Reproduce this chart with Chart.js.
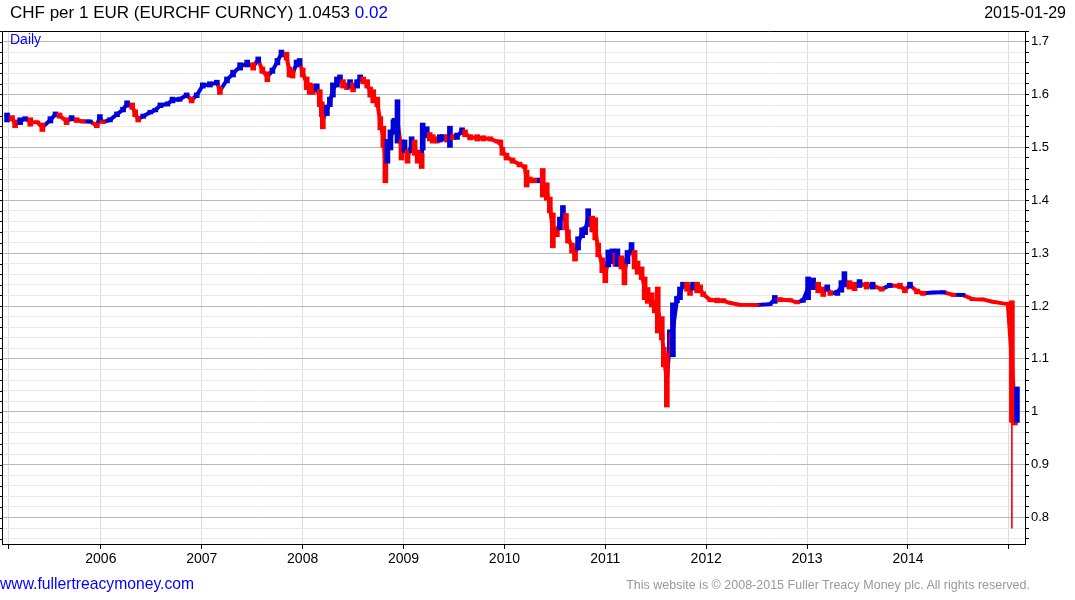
<!DOCTYPE html>
<html>
<head>
<meta charset="utf-8">
<title>CHF per 1 EUR</title>
<script src="https://cdn.jsdelivr.net/npm/chart.js@4.4.0/dist/chart.umd.min.js"></script>
<style>
    body { margin: 0; background: #fff; font-family: Arial, "Liberation Sans", sans-serif; }
    .wrap { position: relative; width: 1075px; height: 600px; }
    .wrap canvas { position: absolute; left: 0; top: 0; }
    .txt { position: absolute; white-space: nowrap; }
    #title { left: 10px; top: 3px; font-size: 17px; color: #000; }
    #title span { color: #0000ff; }
    #date { right: 9px; top: 4px; font-size: 16px; color: #000; }
    #daily { left: 10px; top: 31px; font-size: 14px; color: #0000ff; }
    #site { left: 0; top: 575px; font-size: 15.7px; color: #0000ff; }
    #copy { right: 45px; top: 578px; font-size: 12.5px; color: #999; }
</style>
</head>
<body>
<div class="wrap">
    <canvas id="chart"></canvas>
    <div class="txt" id="title">CHF per 1 EUR (EURCHF CURNCY) 1.0453 <span>0.02</span></div>
    <div class="txt" id="date">2015-01-29</div>
    <div class="txt" id="daily">Daily</div>
    <div class="txt" id="site">www.fullertreacymoney.com</div>
    <div class="txt" id="copy">This website is © 2008-2015 Fuller Treacy Money plc. All rights reserved.</div>
</div>
<script>
// dates as fractional years, with the low/high range of each period
const dates = [
    2005.07, 2005.12, 2005.15, 2005.20, 2005.25, 2005.30, 2005.37, 2005.42, 2005.50, 2005.55,
    2005.59, 2005.66, 2005.71, 2005.76, 2005.82, 2005.89, 2005.96, 2005.99, 2006.02, 2006.09,
    2006.16, 2006.22, 2006.26, 2006.31, 2006.34, 2006.37, 2006.42, 2006.49, 2006.54, 2006.59,
    2006.66, 2006.71, 2006.78, 2006.85, 2006.90, 2006.95, 2007.01, 2007.08, 2007.15, 2007.18,
    2007.25, 2007.31, 2007.38, 2007.45, 2007.51, 2007.56, 2007.60, 2007.65, 2007.70, 2007.75,
    2007.79, 2007.84, 2007.87, 2007.90, 2007.94, 2007.97, 2008.00, 2008.04, 2008.07, 2008.10,
    2008.14, 2008.17, 2008.19, 2008.20, 2008.24, 2008.27, 2008.30, 2008.34, 2008.37, 2008.40,
    2008.44, 2008.47, 2008.50, 2008.54, 2008.57, 2008.60, 2008.64, 2008.67, 2008.70, 2008.74,
    2008.77, 2008.80, 2008.82, 2008.84, 2008.87, 2008.90, 2008.91, 2008.94, 2008.98, 2009.01,
    2009.04, 2009.08, 2009.11, 2009.14, 2009.18, 2009.19, 2009.23, 2009.26, 2009.29, 2009.33,
    2009.36, 2009.39, 2009.43, 2009.46, 2009.49, 2009.53, 2009.58, 2009.61, 2009.66, 2009.73,
    2009.79, 2009.86, 2009.93, 2009.96, 2009.98, 2010.02, 2010.08, 2010.15, 2010.20, 2010.22,
    2010.25, 2010.30, 2010.35, 2010.38, 2010.42, 2010.45, 2010.48, 2010.52, 2010.55, 2010.58,
    2010.61, 2010.63, 2010.67, 2010.70, 2010.73, 2010.77, 2010.80, 2010.83, 2010.87, 2010.90,
    2010.93, 2010.97, 2011.00, 2011.03, 2011.07, 2011.10, 2011.12, 2011.16, 2011.19, 2011.22,
    2011.26, 2011.29, 2011.32, 2011.36, 2011.39, 2011.42, 2011.46, 2011.49, 2011.52, 2011.56,
    2011.58, 2011.61, 2011.64, 2011.66, 2011.67, 2011.71, 2011.74, 2011.77, 2011.81, 2011.84,
    2011.87, 2011.91, 2011.94, 2011.97, 2012.04, 2012.11, 2012.17, 2012.23, 2012.33, 2012.50,
    2012.63, 2012.68, 2012.73, 2012.83, 2012.90, 2012.96, 2013.01, 2013.06, 2013.11, 2013.16,
    2013.20, 2013.23, 2013.30, 2013.34, 2013.37, 2013.42, 2013.47, 2013.52, 2013.59, 2013.65,
    2013.74, 2013.82, 2013.92, 2013.97, 2014.02, 2014.09, 2014.15, 2014.25, 2014.35, 2014.45,
    2014.54, 2014.64, 2014.74, 2014.84, 2014.94, 2014.99, 2015.03, 2015.06, 2015.08
];
const lows = [
    1.548, 1.550, 1.537, 1.543, 1.550, 1.540, 1.545, 1.530, 1.546, 1.558,
    1.555, 1.543, 1.550, 1.547, 1.546, 1.546, 1.537, 1.552, 1.545, 1.548,
    1.558, 1.567, 1.576, 1.572, 1.558, 1.548, 1.555, 1.563, 1.567, 1.575,
    1.578, 1.584, 1.587, 1.594, 1.584, 1.594, 1.612, 1.614, 1.618, 1.600,
    1.622, 1.633, 1.646, 1.652, 1.646, 1.660, 1.640, 1.624, 1.640, 1.656,
    1.671, 1.665, 1.633, 1.631, 1.652, 1.655, 1.633, 1.609, 1.600, 1.600,
    1.605, 1.577, 1.558, 1.535, 1.560, 1.577, 1.595, 1.614, 1.622, 1.612,
    1.609, 1.612, 1.605, 1.612, 1.624, 1.620, 1.612, 1.595, 1.584, 1.577,
    1.533, 1.500, 1.433, 1.470, 1.495, 1.527, 1.525, 1.508, 1.476, 1.490,
    1.470, 1.490, 1.485, 1.470, 1.460, 1.495, 1.518, 1.512, 1.508, 1.508,
    1.510, 1.512, 1.510, 1.500, 1.515, 1.515, 1.524, 1.520, 1.514, 1.512,
    1.512, 1.512, 1.508, 1.505, 1.485, 1.476, 1.470, 1.463, 1.460, 1.425,
    1.433, 1.433, 1.433, 1.406, 1.400, 1.376, 1.310, 1.331, 1.344, 1.363,
    1.344, 1.319, 1.300, 1.285, 1.306, 1.329, 1.335, 1.350, 1.340, 1.325,
    1.293, 1.263, 1.244, 1.274, 1.280, 1.275, 1.275, 1.270, 1.240, 1.280,
    1.300, 1.270, 1.260, 1.250, 1.212, 1.205, 1.198, 1.187, 1.149, 1.136,
    1.085, 1.009, 1.117, 1.110, 1.104, 1.206, 1.212, 1.234, 1.228, 1.220,
    1.230, 1.225, 1.225, 1.218, 1.208, 1.206, 1.206, 1.204, 1.200, 1.200,
    1.201, 1.205, 1.208, 1.208, 1.204, 1.207, 1.212, 1.231, 1.225, 1.218,
    1.228, 1.220, 1.220, 1.226, 1.236, 1.232, 1.229, 1.235, 1.232, 1.232,
    1.228, 1.235, 1.233, 1.225, 1.234, 1.223, 1.220, 1.223, 1.223, 1.218,
    1.218, 1.210, 1.210, 1.206, 1.203, 1.202, 0.980, 0.975, 0.980
];
const highs = [
    1.565, 1.560, 1.552, 1.556, 1.558, 1.556, 1.550, 1.546, 1.558, 1.567,
    1.565, 1.556, 1.560, 1.556, 1.552, 1.552, 1.546, 1.562, 1.550, 1.556,
    1.567, 1.576, 1.588, 1.584, 1.571, 1.558, 1.563, 1.570, 1.574, 1.584,
    1.586, 1.595, 1.595, 1.603, 1.595, 1.603, 1.622, 1.624, 1.627, 1.614,
    1.633, 1.646, 1.660, 1.665, 1.660, 1.671, 1.652, 1.643, 1.650, 1.668,
    1.684, 1.680, 1.652, 1.646, 1.665, 1.668, 1.650, 1.633, 1.622, 1.620,
    1.620, 1.609, 1.586, 1.570, 1.580, 1.595, 1.622, 1.633, 1.637, 1.628,
    1.622, 1.628, 1.622, 1.628, 1.637, 1.633, 1.628, 1.614, 1.609, 1.595,
    1.558, 1.540, 1.508, 1.515, 1.533, 1.552, 1.555, 1.590, 1.514, 1.514,
    1.495, 1.520, 1.514, 1.495, 1.489, 1.546, 1.539, 1.528, 1.524, 1.520,
    1.524, 1.524, 1.524, 1.540, 1.524, 1.527, 1.537, 1.533, 1.524, 1.524,
    1.522, 1.520, 1.514, 1.514, 1.500, 1.489, 1.480, 1.472, 1.467, 1.457,
    1.444, 1.442, 1.442, 1.460, 1.433, 1.406, 1.376, 1.350, 1.368, 1.390,
    1.375, 1.344, 1.319, 1.306, 1.331, 1.348, 1.350, 1.384, 1.370, 1.367,
    1.319, 1.291, 1.274, 1.306, 1.308, 1.300, 1.308, 1.295, 1.290, 1.305,
    1.320, 1.305, 1.285, 1.274, 1.255, 1.235, 1.225, 1.211, 1.236, 1.180,
    1.122, 1.110, 1.155, 1.150, 1.206, 1.218, 1.236, 1.245, 1.245, 1.240,
    1.245, 1.245, 1.240, 1.227, 1.215, 1.215, 1.214, 1.208, 1.205, 1.204,
    1.206, 1.220, 1.216, 1.214, 1.210, 1.214, 1.255, 1.253, 1.245, 1.236,
    1.240, 1.229, 1.230, 1.248, 1.265, 1.248, 1.245, 1.250, 1.245, 1.245,
    1.236, 1.243, 1.243, 1.236, 1.245, 1.232, 1.228, 1.228, 1.229, 1.224,
    1.224, 1.216, 1.215, 1.210, 1.207, 1.206, 1.210, 1.025, 1.047
];
// intraday tail on the day of the SNB floor removal
const tailDates = [2015.03];
const tailLows = [0.78];
const tailHighs = [0.98];

const xTicks = [2005.08, 2006, 2007, 2008, 2009, 2010, 2011, 2012, 2013, 2014, 2015];
const xLabels = ['', '2006', '2007', '2008', '2009', '2010', '2011', '2012', '2013', '2014', ''];
const yLabels = [0.8, 0.9, 1, 1.1, 1.2, 1.3, 1.4, 1.5, 1.6, 1.7];

const RED = '#ff0000';
const BLUE = '#0000d8';

const mids = lows.map((l, i) => (l + highs[i]) / 2);
const barColors = mids.map((m, i) => (i > 0 && m < mids[i - 1]) ? RED : BLUE);

const minorTicks = [];
for (let k = 38; k <= 86; k++) minorTicks.push(k * 2 / 100);

const isMajor = v => yLabels.some(l => Math.abs(l - v) < 1e-6);

const frame = {
    id: 'frame',
    afterDraw(chart) {
        const { ctx, chartArea: a, scales: { y } } = chart;
        ctx.save();
        ctx.strokeStyle = '#000';
        ctx.lineWidth = 1;
        ctx.beginPath();
        ctx.rect(Math.round(a.left) + 0.5, Math.round(a.top) + 0.5,
            Math.round(a.right - a.left), Math.round(a.bottom - a.top));
        y.ticks.forEach(t => {
            const py = Math.round(y.getPixelForValue(t.value)) + 0.5;
            ctx.moveTo(a.left - 3, py);
            ctx.lineTo(a.left, py);
        });
        ctx.stroke();
        ctx.restore();
    }
};

new Chart(document.getElementById('chart'), {
    type: 'bar',
    data: {
        datasets: [
            {
                type: 'bar',
                data: dates.map((d, i) => ({ x: d, y: [lows[i], highs[i]] })),
                backgroundColor: barColors,
                barThickness: 5,
                grouped: false,
                order: 1
            },
            {
                type: 'bar',
                data: tailDates.map((d, i) => ({ x: d, y: [tailLows[i], tailHighs[i]] })),
                backgroundColor: RED,
                barThickness: 1,
                grouped: false,
                order: 1
            },
            {
                type: 'line',
                data: dates.map((d, i) => ({ x: d, y: mids[i] })),
                borderWidth: 4,
                pointRadius: 0,
                tension: 0,
                borderColor: BLUE,
                segment: {
                    borderColor: c => c.p1.parsed.y < c.p0.parsed.y ? RED : BLUE
                },
                order: 2
            }
        ]
    },
    options: {
        responsive: true,
        maintainAspectRatio: false,
        animation: false,
        layout: { padding: { left: 2, top: 31, right: 5, bottom: 34 } },
        plugins: {
            legend: { display: false },
            tooltip: { enabled: false }
        },
        scales: {
            x: {
                type: 'linear',
                offset: false,
                min: 2005.02,
                max: 2015.16,
                afterBuildTicks: s => { s.ticks = xTicks.map(v => ({ value: v })); },
                afterFit: s => { s.height = 22; },
                ticks: {
                    autoSkip: false,
                    maxRotation: 0,
                    padding: 2,
                    color: '#000',
                    font: { family: 'Arial, "Liberation Sans"', size: 14 },
                    callback: v => { const i = xTicks.indexOf(v); return i >= 0 ? xLabels[i] : ''; }
                },
                grid: { offset: false, color: '#dcdcdc', tickColor: '#000', tickLength: 5 },
                border: { color: '#000' }
            },
            y: {
                position: 'right',
                min: 0.75,
                max: 1.72,
                afterBuildTicks: s => { s.ticks = minorTicks.map(v => ({ value: v })); },
                afterFit: s => { s.width = 45; },
                ticks: {
                    autoSkip: false,
                    padding: 2,
                    color: '#000',
                    font: { family: 'Arial, "Liberation Sans"', size: 13 },
                    callback: v => isMajor(v) ? String(Math.round(v * 10) / 10) : ''
                },
                grid: {
                    offset: false,
                    color: c => isMajor(c.tick.value) ? '#b8b8b8' : '#e8e8e8',
                    tickColor: '#000',
                    tickLength: 4
                },
                border: { color: '#000' }
            }
        }
    },
    plugins: [frame]
});
</script>
</body>
</html>
